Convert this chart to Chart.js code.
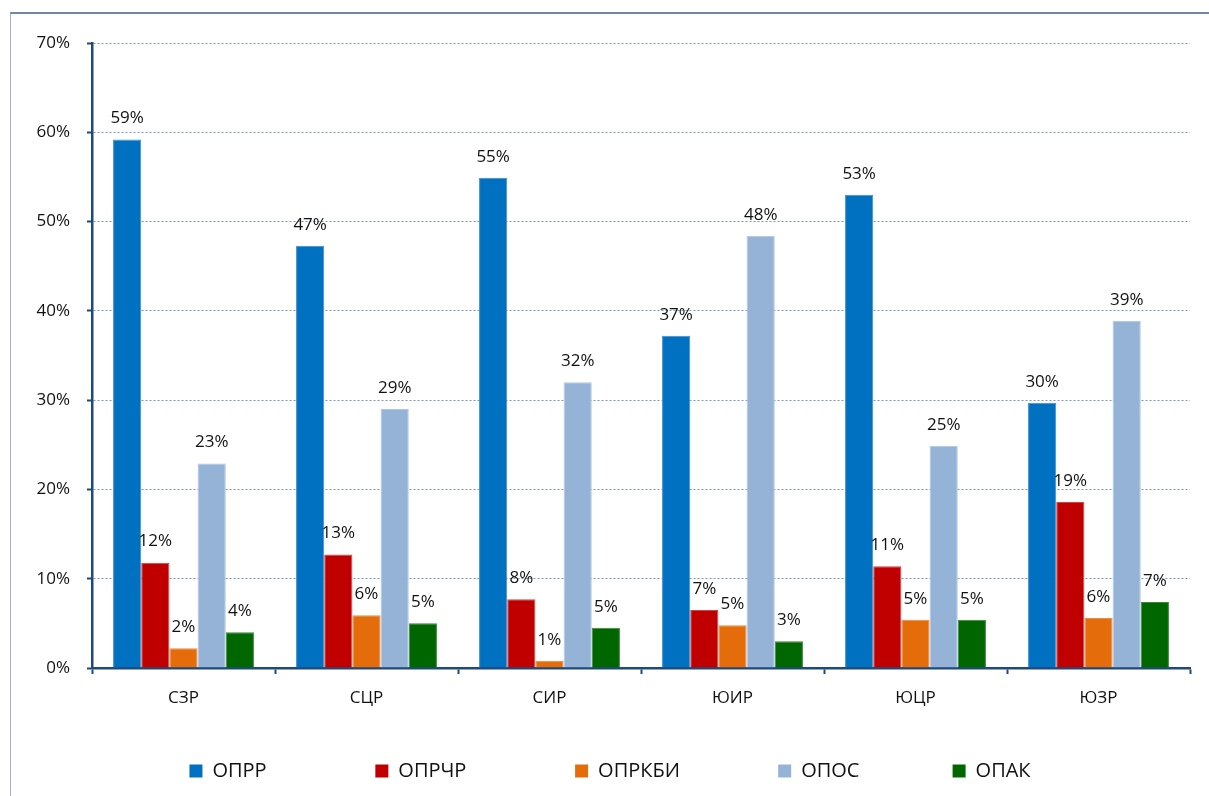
<!DOCTYPE html>
<html><head><meta charset="utf-8">
<script src="https://cdn.jsdelivr.net/npm/chart.js@4.4.1/dist/chart.umd.min.js"></script>
<style>
html,body{margin:0;padding:0;background:#fff;width:1209px;height:796px;overflow:hidden;}
#frame{position:absolute;left:10px;top:12px;width:1198px;height:782px;border-left:1px solid #9DB3CB;border-top:2px solid #6F89A3;}
#c{display:block;}
</style></head><body>
<div id="frame"><canvas id="c" width="1198" height="782"></canvas></div>
<script>
const categories = ['СЗР', 'СЦР', 'СИР', 'ЮИР', 'ЮЦР', 'ЮЗР'];
const seriesNames = ['ОПРР', 'ОПРЧР', 'ОПРКБИ', 'ОПОС', 'ОПАК'];
const oprr   = [59.2, 47.3, 54.9, 37.2, 53.0, 29.7];
const oprchr = [11.8, 12.7, 7.7, 6.5, 11.4, 18.6];
const oprkbi = [2.2, 5.9, 0.8, 4.8, 5.4, 5.6];
const opos   = [22.9, 29.0, 32.0, 48.4, 24.9, 38.9];
const opak   = [4.0, 5.0, 4.5, 3.0, 5.4, 7.4];
const yTickLabels = ['0%', '10%', '20%', '30%', '40%', '50%', '60%', '70%'];

const colors = ['#0070C0', '#C00000', '#E46C0A', '#95B3D7', '#006600'];
const edgeColors = ['#3C8FD0', '#D24444', '#EC8C40', '#B0C7E2', '#3A873A'];
const seriesValues = [oprr, oprchr, oprkbi, opos, opak];
const FONT = '"Open Sans", sans-serif';
const AXIS = '#1F497D';

const legendSlots = [186, 201, 204, 175];

const valueLabels = {
  id: 'valueLabels',
  afterDatasetsDraw(chart) {
    const ctx = chart.ctx;
    ctx.save();
    ctx.font = '17px ' + FONT;
    ctx.fillStyle = '#111';
    ctx.textAlign = 'center';
    ctx.textBaseline = 'middle';
    chart.data.datasets.forEach((ds, di) => {
      const meta = chart.getDatasetMeta(di);
      meta.data.forEach((el, i) => {
        ctx.fillText(Math.round(ds.data[i]) + '%', el.x, el.y - 21);
      });
    });
    ctx.restore();
  }
};

function build() {
  new Chart(document.getElementById('c'), {
    type: 'bar',
    data: {
      labels: categories,
      datasets: seriesNames.map((n, i) => ({
        label: n,
        data: seriesValues[i],
        backgroundColor: colors[i],
        borderColor: edgeColors[i],
        borderWidth: 1,
        categoryPercentage: 0.77,
        barPercentage: 1.0
      }))
    },
    options: {
      responsive: false,
      animation: false,
      layout: { padding: { left: 0, right: 0, top: 29, bottom: 5 } },
      scales: {
        x: {
          grid: { display: true, drawOnChartArea: false, drawTicks: true, tickLength: 6, tickColor: AXIS, tickWidth: 2, offset: true },
          border: { display: true, color: AXIS, width: 2.5 },
          ticks: { font: { size: 17, family: FONT }, color: '#111', padding: 14 },
          afterFit(s) { s.height = 83; }
        },
        y: {
          min: 0, max: 70,
          ticks: { stepSize: 10, font: { size: 17, family: FONT }, color: '#111', padding: 17,
                   callback: (v) => yTickLabels[Math.round(v / 10)] },
          grid: { color: '#7E96BF', lineWidth: 1, tickLength: 5, tickColor: AXIS, tickWidth: 2 },
          border: { display: true, color: AXIS, width: 2.5, dash: [2, 2] },
          afterFit(s) { s.width = 81; }
        },
        yPad: {
          position: 'right', display: true,
          grid: { display: false }, border: { display: false }, ticks: { display: false },
          afterFit(s) { s.width = 19; }
        }
      },
      plugins: {
        legend: {
          position: 'bottom',
          labels: {
            font: { size: 20, family: FONT }, color: '#111',
            boxWidth: 13, boxHeight: 13, padding: 10,
            generateLabels(chart) {
              const items = Chart.defaults.plugins.legend.labels.generateLabels(chart);
              const ctx = chart.ctx;
              ctx.save();
              ctx.font = '20px ' + FONT;
              items.forEach((it, i) => {
                it.lineWidth = 0;
                if (i < legendSlots.length) {
                  const target = legendSlots[i] - 10 - 13 - 10;
                  while (ctx.measureText(it.text + ' ').width <= target) it.text += ' ';
                }
              });
              ctx.restore();
              return items;
            }
          }
        },
        tooltip: { enabled: false }
      }
    },
    plugins: [valueLabels]
  });
}
if (document.fonts && document.fonts.load) {
  Promise.all([document.fonts.load('17px "Open Sans"'), document.fonts.load('20px "Open Sans"')]).then(build, build);
} else build();
</script>
</body></html>
